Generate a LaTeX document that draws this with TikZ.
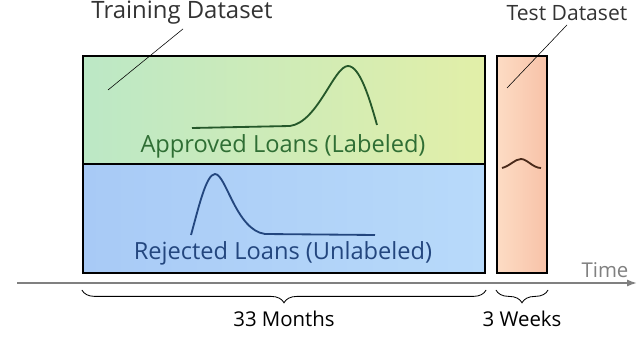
\documentclass[tikz,border=0pt]{standalone}
\usepackage{fontspec}
\setmainfont{Open Sans}
\usepackage{xcolor}
\definecolor{greenleft}{HTML}{BCE8C6}
\definecolor{greenright}{HTML}{E2EFA8}
\definecolor{blueleft}{HTML}{A8CAF6}
\definecolor{blueright}{HTML}{B8DAFA}
\definecolor{peachleft}{HTML}{FDDCC4}
\definecolor{peachright}{HTML}{F8C2A8}
\definecolor{approvedtext}{HTML}{2F6E34}
\definecolor{rejectedtext}{HTML}{23467E}
\definecolor{testcurve}{HTML}{4A2A1A}
\definecolor{axisgray}{HTML}{808080}
\usetikzlibrary{arrows.meta, positioning, calc, decorations.pathreplacing}

\begin{document}
\begin{tikzpicture}[
  x=0.025cm, y=-0.025cm,
  period/.style={
    rectangle, draw=black, line width=1.5pt, inner sep=0pt
  },
  label/.style={font=\fontsize{14.5}{16}\selectfont, inner sep=0pt},
  boxlabel/.style={font=\fontsize{16.8}{18}\selectfont, inner sep=0pt},
  pointer/.style={thin, black},
  density/.style={line width=1.3pt},
  span/.style={decorate, decoration={brace, mirror, amplitude=0.32cm}, semithick},
]
  \useasboundingbox (0,0) rectangle (640,361);

  % boxes
  \node[period, left color=greenleft, right color=greenright,
        minimum width=10.05cm, minimum height=2.7cm] (approved) at (284,110) {};
  \node[period, left color=blueleft, right color=blueright,
        minimum width=10.05cm, minimum height=2.725cm] (rejected) at (284,218.5) {};
  \node[period, left color=peachleft, right color=peachright,
        minimum width=1.25cm, minimum height=5.425cm] (test) at (522,164.5) {};

  % curves
  \draw[density, approvedtext!80!black] (192,128) -- (290,126)
    .. controls (318,122) and (334,66) .. (348,66)
    .. controls (360,66) and (370,100) .. (377,125);
  \draw[density, rejectedtext] (191,235)
    .. controls (198,210) and (206,174) .. (215,174)
    .. controls (226,174) and (236,230) .. (265,234) -- (375,235);
  \draw[density, testcurve] (502,168)
    .. controls (510,166) and (515,159) .. (521,159)
    .. controls (527,159) and (533,168) .. (541,168);

  % texts
  \node[boxlabel, text=approvedtext] (approvedlbl) at (283,146) {Approved Loans (Labeled)};
  \node[boxlabel, text=rejectedtext] (rejectedlbl) at (283,253) {Rejected Loans (Unlabeled)};
  \node[label, font=\fontsize{17}{19}\selectfont, text=black!80] (trainlbl) at (182,13) {Training Dataset};
  \node[label, font=\fontsize{15}{17}\selectfont, text=black!80] (testlbl) at (567,13) {Test Dataset};
  \coordinate (trainpt) at (108,90);
  \coordinate (testpt) at (507,88);
  \draw[pointer] (trainlbl.south) ++(1,4) -- (trainpt);
  \draw[pointer] (testlbl.south) ++(0,4) -- (testpt);

  % time axis
  \coordinate (tstart) at (17,283);
  \coordinate (tend) at (637,283);
  \draw[axisgray, line width=1.2pt, -{Latex[length=7pt, width=5pt]}] (tstart) -- (tend);
  \node[label, text=axisgray] (timelbl) at (605,270) {Time};

  % spans
  \draw[span] ($(approved.west |- 0,290)$) -- ($(approved.east |- 0,290)$)
    node[midway, below=0.52cm, label] (months) {33 Months};
  \draw[span] ($(test.west |- 0,290)$) -- ($(test.east |- 0,290)$)
    node[midway, below=0.52cm, label] (weeks) {3 Weeks};
\end{tikzpicture}
\end{document}
